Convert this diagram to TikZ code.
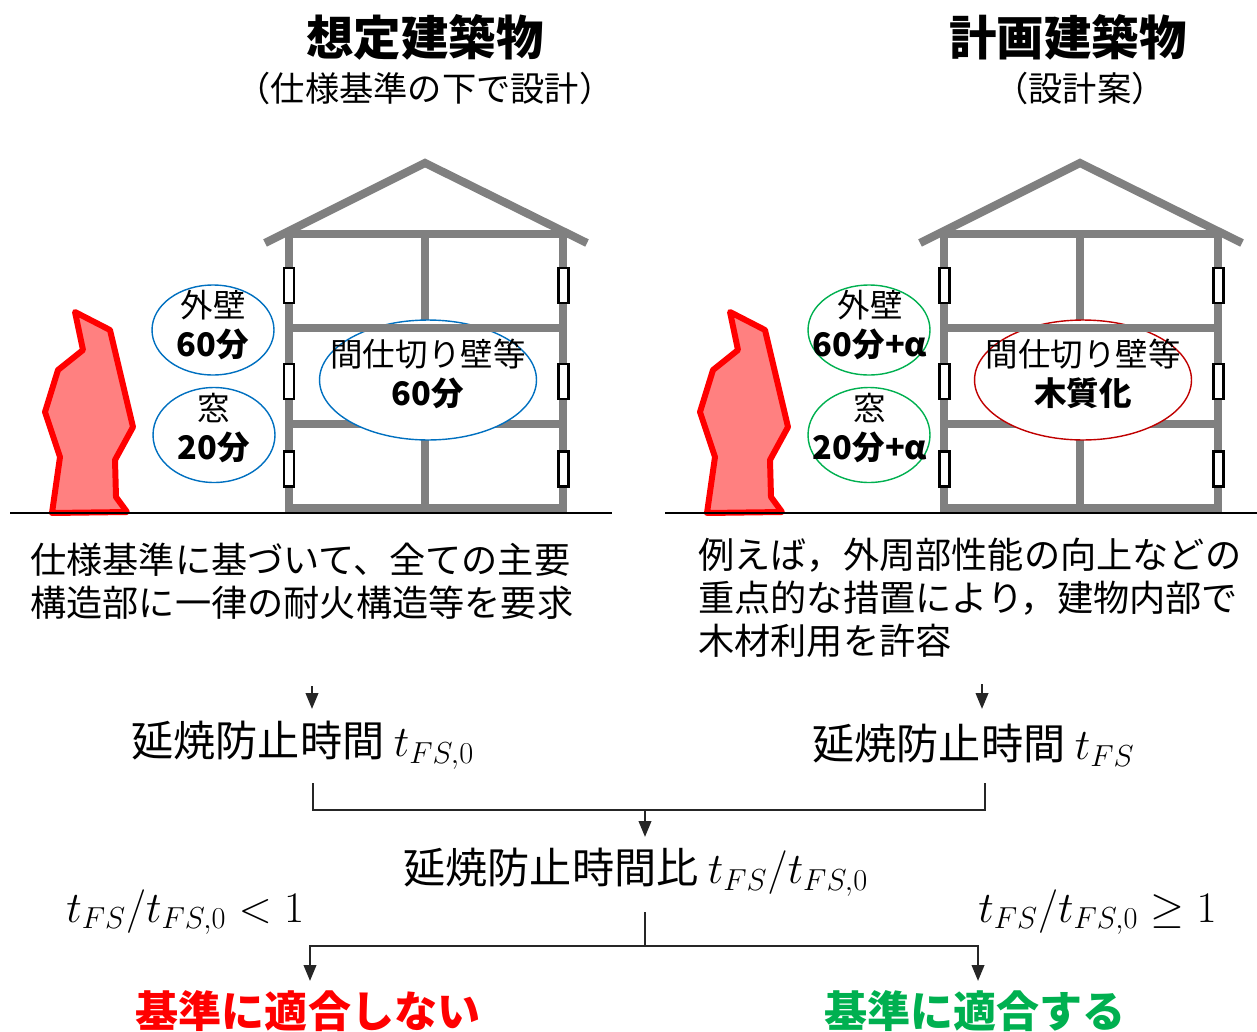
\documentclass[tikz,border=0pt]{standalone}
\usepackage{fontspec}
\setmainfont{Noto Sans CJK JP}
\usetikzlibrary{arrows.meta,shapes.geometric}

\definecolor{housegray}{RGB}{128,128,128}
\definecolor{firered}{RGB}{255,0,0}
\definecolor{firefill}{RGB}{255,128,128}
\definecolor{specblue}{RGB}{0,112,192}
\definecolor{okgreen}{RGB}{0,176,80}
\definecolor{woodred}{RGB}{192,0,0}

\tikzset{
  beam/.style={draw=housegray, line width=4.6pt},
  window/.style={draw=black, fill=white, line width=1.7pt},
  fire/.style={draw=firered, fill=firefill, line width=3.4pt, line join=round},
  part/.style={ellipse, draw, fill=white, line width=0.8pt, inner sep=0pt},
  part text/.style={align=center, inner sep=0pt, font=\fontsize{18.5}{22.5}\selectfont},
  title/.style={font=\fontsize{27}{32}\selectfont\bfseries},
  subtitle/.style={font=\fontsize{19.5}{23}\selectfont},
  para/.style={anchor=west, align=left, inner sep=0pt, font=\fontsize{20.6}{24.4}\selectfont},
  step text/.style={anchor=west, inner sep=0pt, font=\fontsize{24}{28}\selectfont},
  result/.style={font=\fontsize{24.5}{28}\selectfont\bfseries},
  flow/.style={draw=black!85, line width=1.4pt},
  arr/.style={flow, -{Triangle[length=9pt,width=7pt]}}
}

\begin{document}
\begin{tikzpicture}[x=0.02cm, y=-0.02cm]
\useasboundingbox (0,0) rectangle (1257,1031);

% fire, ground and frame of both houses
\foreach \dx in {0,655}{
\begin{scope}[shift={(\dx,0)}]
  \draw[fire] (75,312) -- (110,330) -- (133,427) -- (115,460) -- (116,497) -- (127,512)
    -- (52,513) -- (60,457) -- (45,412) -- (58,370) -- (83,350) -- cycle;
  \draw[line width=1.1pt] (10,513) -- (612,513);
  \draw[beam] (265,243) -- (425,163) -- (587,243);
  \draw[beam] (285,234) -- (567,234);
  \draw[beam] (289,234) -- (289,512) (563,234) -- (563,512) (425,234) -- (425,508);
  \draw[beam] (289,424) -- (563,424) (289,508) -- (563,508);
  \foreach \wy in {268,364,451}{
    \draw[window] (284,\wy) rectangle (294,\wy+35);
    \draw[window] (558,\wy) rectangle (568,\wy+35);
  }
\end{scope}
}

% titles
\node[title]    (ltitle) at (425,37) {想定建築物};
\node[subtitle] (lsub)   at (425,88) {（仕様基準の下で設計）};
\node[title]    (rtitle) at (1068,37) {計画建築物};
\node[subtitle] (rsub)   at (1080,88) {（設計案）};

% fire resistance of each part
\node[part, draw=specblue, minimum width=2.44cm, minimum height=1.8cm] (lwall) at (213,330) {};
\node[part, draw=specblue, minimum width=2.44cm, minimum height=1.9cm] (lwin)  at (214,435) {};
\node[part, draw=specblue, minimum width=4.34cm, minimum height=2.4cm] (lin)   at (428,380) {};
\node[part, draw=okgreen,  minimum width=2.44cm, minimum height=1.8cm] (rwall) at (869,330) {};
\node[part, draw=okgreen,  minimum width=2.44cm, minimum height=1.9cm] (rwin)  at (869,435) {};
\node[part, draw=woodred,  minimum width=4.34cm, minimum height=2.4cm] (rin)   at (1083,380) {};

\foreach \dx in {0,655}
  \draw[beam] (\dx+289,328) -- (\dx+563,328);

\node[part text] (lwall-t) at (213,325) {外壁\\\textbf{60分}};
\node[part text] (lwin-t)  at (214,428) {窓\\\textbf{20分}};
\node[part text] (lin-t)   at (428,374) {間仕切り壁等\\\textbf{60分}};
\node[part text] (rwall-t) at (870,325) {外壁\\\textbf{60分+α}};
\node[part text] (rwin-t)  at (870,428) {窓\\\textbf{20分+α}};
\node[part text] (rin-t)   at (1083,374) {間仕切り壁等\\\textbf{木質化}};

% explanations
\node[para] (lpara) at (30,581) {仕様基準に基づいて、全ての主要\\構造部に一律の耐火構造等を要求};
\node[para] (rpara) at (698,598) {例えば，外周部性能の向上などの\\重点的な措置により，建物内部で\\木材利用を許容};

% fire spread prevention times
\node[step text] (ltime) at (131,745) {延焼防止時間 $t_{FS,0}$};
\node[step text] (rtime) at (812,745) {延焼防止時間 $t_{FS}$};
\node[step text] (ratio) at (403,872) {延焼防止時間比 $t_{FS}/t_{FS,0}$};
\node[step text] (lcond) at (66,912) {$t_{FS}/t_{FS,0} < 1$};
\node[step text] (rcond) at (978,912) {$t_{FS}/t_{FS,0} \geq 1$};

\node[result, text=firered] (ng) at (308,1011) {基準に適合しない};
\node[result, text=okgreen] (ok) at (975,1011) {基準に適合する};

\coordinate (la) at (312,686);
\coordinate (lb) at (312,709);
\coordinate (ra) at (982,684);
\coordinate (rb) at (982,709);
\coordinate (lc) at (313,783);
\coordinate (rc) at (985,783);
\coordinate (join) at (645,810);
\coordinate (into) at (645,837);
\coordinate (out) at (645,912);
\coordinate (split) at (645,946);
\coordinate (ngtop) at (310,981);
\coordinate (oktop) at (978,981);

\draw[arr] (la) -- (lb);
\draw[arr] (ra) -- (rb);
\draw[flow] (lc) |- (join) -| (rc);
\draw[arr] (join) -- (into);
\draw[flow] (out) -- (split);
\draw[arr] (split) -| (ngtop);
\draw[arr] (split) -| (oktop);
\end{tikzpicture}
\end{document}
